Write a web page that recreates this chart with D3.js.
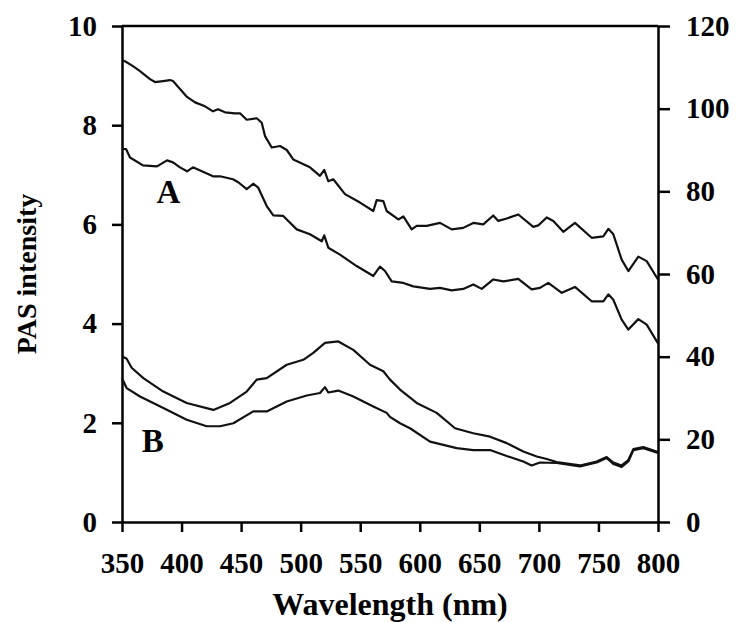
<!DOCTYPE html>
<html>
<head>
<meta charset="utf-8">
<script src="https://cdn.jsdelivr.net/npm/d3@7"></script>
<style>
  body { margin: 0; background: #fff; }
  svg { display: block; }
  .tick text { font-family: "Liberation Serif", "DejaVu Serif", serif; font-weight: bold; }
</style>
</head>
<body>
<div id="fig"></div>
<script>
const fig_width = 736
const fig_height = 622
const margin = {top: 26, right: 78, bottom: 100, left: 122}

// curves: [wavelength (nm), PAS intensity]
const curve_a1 = [
  [350, 9.31], [352.5, 9.29], [359.2, 9.19], [365.1, 9.09], [369.3, 9.01], [373.5, 8.93],
  [377.7, 8.87], [384.4, 8.89], [390.3, 8.91], [392.8, 8.89], [398.7, 8.73], [404.6, 8.57],
  [411.3, 8.46], [419.7, 8.38], [426.4, 8.28], [430.6, 8.32], [436.5, 8.26], [444.9, 8.24],
  [449.1, 8.24], [454.7, 8.11], [463.1, 8.14], [467.3, 8.05], [470.1, 7.78], [475.7, 7.55],
  [482.7, 7.58], [488.3, 7.50], [493.8, 7.31], [507.8, 7.15], [516.2, 6.98], [519.8, 7.10],
  [523.2, 6.87], [527.4, 6.91], [537.2, 6.61], [549.8, 6.44], [561, 6.27], [563.8, 6.49],
  [569.4, 6.47], [572.2, 6.27], [582, 6.10], [586.2, 6.16], [593.2, 5.90], [597.4, 5.97],
  [605.8, 5.97], [617, 6.03], [626.8, 5.90], [636.5, 5.93], [644.9, 6.03], [653.3, 6.00],
  [661.7, 6.18], [665.9, 6.07], [673, 6.12], [682.7, 6.20], [695.3, 5.95], [699.5, 5.98],
  [706.6, 6.14], [712.1, 6.07], [720.5, 5.85], [730.3, 6.03], [744.3, 5.73], [754.1, 5.76],
  [758.3, 5.91], [762.5, 5.80], [769.5, 5.29], [775.1, 5.06], [783.5, 5.35], [790.5, 5.26],
  [800, 4.89]
]
const curve_a2 = [
  [350, 7.52], [353.4, 7.52], [356.7, 7.35], [367.6, 7.19], [379.4, 7.17], [387.8, 7.29],
  [392.8, 7.25], [398.7, 7.15], [404.6, 7.07], [409.6, 7.15], [426.4, 6.97], [432.3, 6.97],
  [443.2, 6.91], [447.6, 6.85], [454.7, 6.71], [460.2, 6.82], [464.4, 6.74], [471.5, 6.37],
  [477, 6.18], [485.4, 6.17], [496.7, 5.90], [507.8, 5.80], [517.7, 5.66], [519.8, 5.78],
  [523.2, 5.53], [533, 5.39], [547, 5.16], [561, 4.96], [566.6, 5.15], [570.8, 5.06],
  [576.4, 4.85], [586.2, 4.82], [594.6, 4.75], [608.6, 4.70], [617, 4.72], [626.8, 4.67],
  [636.5, 4.70], [644.9, 4.79], [652, 4.70], [661.7, 4.89], [670.1, 4.85], [682.7, 4.90],
  [693.9, 4.69], [700.9, 4.72], [707.9, 4.82], [719.2, 4.62], [730.3, 4.74], [744.3, 4.45],
  [754.1, 4.45], [758.3, 4.59], [762.5, 4.48], [769.5, 4.08], [775.1, 3.88], [783.5, 4.09],
  [790.5, 3.98], [800, 3.60]
]
const curve_b1 = [
  [350, 3.34], [353.9, 3.29], [358.1, 3.11], [367.9, 2.90], [384.7, 2.63], [404.3, 2.40],
  [426.7, 2.26], [440.7, 2.40], [454.7, 2.63], [463.1, 2.87], [471.5, 2.90], [488.3, 3.17],
  [502.2, 3.27], [510.6, 3.41], [520.4, 3.61], [531.6, 3.64], [544.2, 3.47], [558.2, 3.17],
  [569.4, 3.04], [575, 2.87], [583.4, 2.67], [597.4, 2.40], [614.2, 2.20], [629.6, 1.89],
  [644.9, 1.79], [659, 1.72], [673, 1.59], [686.9, 1.42], [698.2, 1.32], [706.6, 1.27],
  [714.9, 1.21], [734.5, 1.14], [748.5, 1.22], [756.9, 1.31], [762.5, 1.20], [769.5, 1.14],
  [775.1, 1.25], [779.3, 1.47], [787.7, 1.51], [800, 1.41]
]
const curve_b2 = [
  [350, 2.90], [353.9, 2.70], [365.1, 2.53], [384.7, 2.30], [404.3, 2.06], [421.1, 1.93],
  [432.3, 1.93], [443.5, 1.99], [460.2, 2.23], [471.5, 2.23], [488.3, 2.43], [505.1, 2.55],
  [516.2, 2.60], [520.4, 2.72], [523.2, 2.61], [531.6, 2.65], [544.2, 2.53], [561, 2.33],
  [572.2, 2.20], [575, 2.12], [583.4, 1.99], [591.8, 1.89], [608.6, 1.62], [631, 1.49],
  [644.9, 1.45], [659, 1.45], [673, 1.33], [686.9, 1.22], [693.9, 1.14], [700.9, 1.20],
  [714.9, 1.19], [734.5, 1.12], [748.5, 1.20], [756.9, 1.29], [762.5, 1.17], [769.5, 1.11],
  [775.1, 1.22], [779.3, 1.45], [787.7, 1.49], [800, 1.39]
]

const x_ticks = [350, 400, 450, 500, 550, 600, 650, 700, 750, 800]
const left_ticks = [0, 2, 4, 6, 8, 10]
const right_ticks = [0, 20, 40, 60, 80, 100, 120]

// curve labels placed at [wavelength, intensity]
const curve_labels = [
  {text: 'A', at: [379, 6.44]},
  {text: 'B', at: [366.5, 1.41]}
]

const serif = '"Liberation Serif", "DejaVu Serif", serif'

let fig = d3.select('#fig')
    .append('svg')
    .attr('width', fig_width)
    .attr('height', fig_height)

let xScale = d3.scaleLinear()
    .domain([350, 800])
    .range([margin.left, fig_width - margin.right])
let yScale = d3.scaleLinear()
    .domain([0, 10])
    .range([fig_height - margin.bottom, margin.top])
let y2Scale = d3.scaleLinear()
    .domain([0, 120])
    .range([fig_height - margin.bottom, margin.top])

let xAxis = fig.append('g')
    .attr('transform', `translate(0,${yScale(0)})`)
    .call(d3.axisBottom(xScale).tickValues(x_ticks).tickSize(10).tickSizeOuter(0).tickPadding(20).tickFormat(d3.format('d')))
let yAxis = fig.append('g')
    .attr('transform', `translate(${xScale(350)},0)`)
    .call(d3.axisLeft(yScale).tickValues(left_ticks).tickSize(10).tickSizeOuter(0).tickPadding(15).tickFormat(d3.format('d')))
let y2Axis = fig.append('g')
    .attr('transform', `translate(${xScale(800)},0)`)
    .call(d3.axisRight(y2Scale).tickValues(right_ticks).tickSize(12).tickSizeOuter(0).tickPadding(16).tickFormat(d3.format('d')))

// top border runs across the plot
fig.append('line')
    .attr('x1', xScale(350)).attr('x2', xScale(800))
    .attr('y1', yScale(10)).attr('y2', yScale(10))
    .attr('stroke', '#000')
    .attr('stroke-width', 2.5)

fig.selectAll('.domain, .tick line')
    .attr('stroke', '#000')
    .attr('stroke-width', 2.5)
fig.selectAll('.tick text')
    .attr('fill', '#000')
    .style('font-size', '29px')

let line = d3.line()
    .x(d => xScale(d[0]))
    .y(d => yScale(d[1]))

fig.selectAll('path.curve')
    .data([curve_a1, curve_a2, curve_b1, curve_b2])
    .join('path')
    .attr('class', 'curve')
    .attr('d', line)
    .attr('fill', 'none')
    .attr('stroke', '#111')
    .attr('stroke-width', 2.2)
    .attr('stroke-linejoin', 'round')

fig.selectAll('text.curvelabel')
    .data(curve_labels)
    .join('text')
    .attr('class', 'curvelabel')
    .attr('x', d => xScale(d.at[0]))
    .attr('y', d => yScale(d.at[1]))
    .text(d => d.text)
    .style('font-family', serif)
    .style('font-weight', 'bold')
    .style('font-size', '33px')

fig.append('text')
    .attr('x', (xScale(350) + xScale(800)) / 2)
    .attr('y', 615)
    .attr('text-anchor', 'middle')
    .text('Wavelength (nm)')
    .style('font-family', serif)
    .style('font-weight', 'bold')
    .style('font-size', '32px')

fig.append('text')
    .attr('transform', `translate(36,${(yScale(0) + yScale(10)) / 2}) rotate(-90)`)
    .attr('text-anchor', 'middle')
    .text('PAS intensity')
    .style('font-family', serif)
    .style('font-weight', 'bold')
    .style('font-size', '28px')
</script>
</body>
</html>
